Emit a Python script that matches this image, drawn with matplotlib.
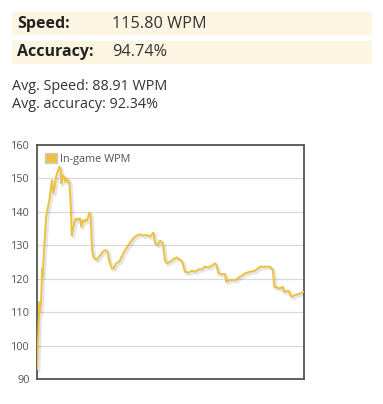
import matplotlib
matplotlib.use("Agg")
import matplotlib.pyplot as plt
import matplotlib.patheffects as pe
import matplotlib.patches as mpatches
from matplotlib.patches import Rectangle

# ---- data ----
speed_text = "115.80 WPM"
accuracy_text = "94.74%"
avg_speed_text = "Avg. Speed: 88.91 WPM"
avg_acc_text = "Avg. accuracy: 92.34%"
series_label = "In-game WPM"

progress = [0.0, 0.9, 1.1, 1.5, 1.9, 2.1, 2.6, 3.4, 4.1, 4.6, 5.1, 5.6, 6.1, 6.6,
            7.1, 7.9, 8.4, 8.9, 9.1, 9.6, 10.1, 10.6, 11.1, 11.6, 12.1, 12.6, 13.0,
            13.6, 14.1, 14.6, 15.1, 15.6, 16.1, 16.6, 17.1, 17.6, 18.1, 18.6, 19.1,
            19.6, 20.1, 20.6, 21.1, 21.6, 22.4, 23.3, 24.6, 25.6, 26.3, 27.1, 28.0,
            28.8, 29.6, 30.8, 32.3, 34.2, 36.1, 37.3, 38.6, 39.8, 41.1, 42.3, 43.6,
            44.2, 45.1, 46.1, 47.1, 47.9, 48.6, 49.8, 51.1, 52.3, 53.6, 54.4, 55.4,
            56.7, 57.9, 59.2, 60.4, 61.7, 62.9, 64.2, 65.4, 66.7, 67.3, 67.9, 69.2,
            70.4, 70.8, 72.3, 74.2, 76.0, 77.9, 79.8, 81.7, 83.5, 87.3, 88.3, 88.9,
            91.0, 92.0, 92.5, 94.3, 94.8, 95.4, 96.6, 97.9, 99.1, 100.0]
wpm = [92.9, 113.0, 110.0, 113.0, 123.0, 120.6, 128.6, 138.5, 141.5, 143.5, 146.5,
       149.5, 145.6, 147.5, 150.5, 152.5, 153.5, 152.5, 148.5, 151.0, 150.5, 149.0,
       150.0, 149.0, 149.0, 142.5, 133.0, 135.5, 137.0, 138.0, 137.5, 138.0, 138.0,
       135.5, 137.5, 137.0, 137.7, 137.3, 138.5, 139.8, 138.5, 128.6, 126.6, 126.1,
       125.6, 126.6, 128.1, 128.6, 128.3, 125.1, 123.1, 123.1, 124.6, 125.1, 127.6,
       130.1, 132.1, 132.9, 133.3, 132.9, 133.1, 132.6, 133.8, 130.6, 130.1, 131.4,
       130.6, 125.6, 124.6, 125.1, 125.8, 126.4, 125.6, 125.1, 122.1, 121.8, 122.4,
       122.1, 122.8, 122.8, 123.6, 123.4, 123.9, 124.6, 123.8, 121.6, 121.4, 121.4,
       119.1, 119.6, 119.6, 120.6, 121.6, 122.1, 122.4, 123.6, 123.6, 122.6, 117.6,
       117.1, 117.6, 116.1, 116.4, 115.1, 114.6, 115.1, 115.4, 115.8, 116.1]
yticks = [90, 100, 110, 120, 130, 140, 150, 160]

W, H = 383, 404
fig = plt.figure(figsize=(W / 100, H / 100), dpi=100)
fig.patch.set_facecolor("white")
FONT = ["Open Sans", "DejaVu Sans"]

def fx(px):
    return px / W

def fy(py):
    return 1 - py / H

# header boxes
box_color = "#fcf5e1"
for top, bot in [(12, 35), (41, 64)]:
    fig.patches.append(Rectangle((fx(12), fy(bot)), fx(372) - fx(12), fy(top) - fy(bot),
                                 transform=fig.transFigure, facecolor=box_color,
                                 edgecolor="none", zorder=0))

fig.text(fx(17), fy(23.5), "Speed:", fontsize=11.5, fontweight="bold", color="#222222",
         va="center", ha="left", family=FONT)
fig.text(fx(112), fy(23.5), speed_text, fontsize=11.7, color="#333333",
         va="center", ha="left", family=FONT)
fig.text(fx(17), fy(52.5), "Accuracy:", fontsize=11.5, fontweight="bold", color="#222222",
         va="center", ha="left", family=FONT)
fig.text(fx(112), fy(52.5), accuracy_text, fontsize=11.7, color="#333333",
         va="center", ha="left", family=FONT)
fig.text(fx(12), fy(86.5), avg_speed_text, fontsize=10.4, color="#333333",
         va="center", ha="left", family=FONT)
fig.text(fx(12), fy(104.5), avg_acc_text, fontsize=10.4, color="#333333",
         va="center", ha="left", family=FONT)

# chart
ax = fig.add_axes([fx(37), fy(379), fx(304) - fx(37), fy(145) - fy(379)])
ax.plot(progress, wpm, color="#edc240", linewidth=1.4, solid_joinstyle="round",
        path_effects=[pe.SimpleLineShadow(offset=(1.2, -1.2), shadow_color="k", alpha=0.1,
                                          linewidth=2.4),
                      pe.Normal()],
        label=series_label, zorder=3)
ax.set_xlim(0, 100)
ax.set_ylim(90, 160)
ax.set_yticks(yticks)
ax.set_xticks([])
ax.grid(axis="y", color="#d9d9d9", linewidth=0.9)
ax.set_axisbelow(True)
ax.tick_params(axis="y", length=0, pad=5, labelsize=7.8, labelcolor="#545454")
for lab in ax.get_yticklabels():
    lab.set_family(FONT)
for s in ax.spines.values():
    s.set_color("#545454")
    s.set_linewidth(1.3)

# legend
handle = mpatches.Patch(facecolor="#edc240", edgecolor="#cccccc", linewidth=1.0,
                        label=series_label)
leg = ax.legend(handles=[handle], loc="upper left", frameon=False, handlelength=1.05,
                handleheight=1.05, handletextpad=0.35, borderaxespad=0.35,
                prop={"family": FONT, "size": 7.8})
for t in leg.get_texts():
    t.set_color("#545454")

fig.savefig("out.png", dpi=100, facecolor="white")
